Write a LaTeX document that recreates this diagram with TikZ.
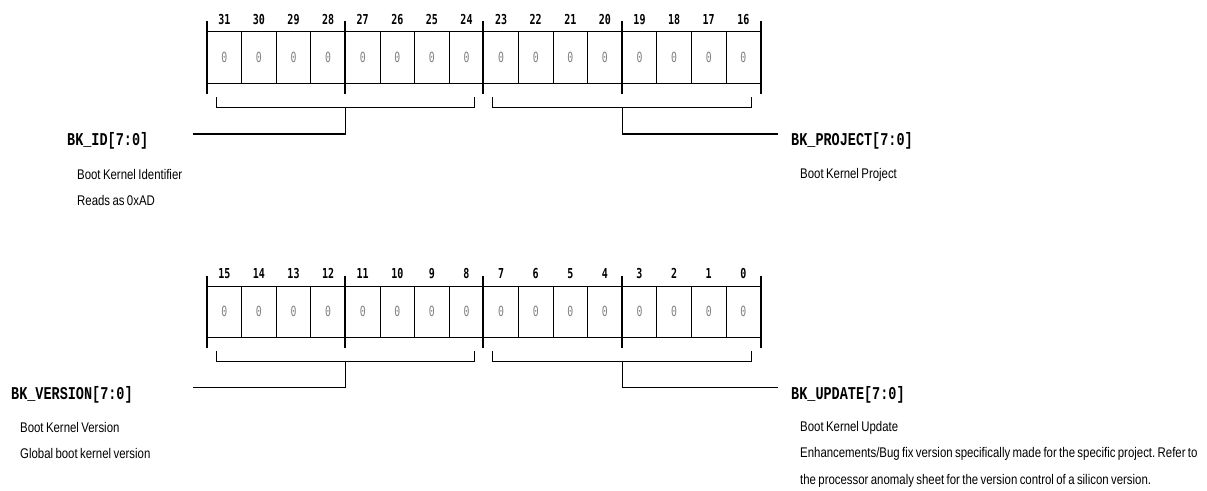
\documentclass[tikz,border=0pt]{standalone}
\usepackage{fontspec}
\usepackage{xcolor}
\usepackage{tikz}
\usetikzlibrary{positioning, calc}
\setmainfont{Liberation Sans}
\newfontfamily\regfont[FakeStretch=0.815, WordSpace=0.75]{Liberation Sans}
\newfontfamily\fieldfont[FakeStretch=0.75]{Liberation Mono}
\newfontfamily\bitfont[FakeStretch=0.73]{DejaVu Sans Mono}
\newfontfamily\resetfont[FakeStretch=0.7]{DejaVu Sans Mono}
\definecolor{ink}{HTML}{000000}
\definecolor{resetgray}{HTML}{808080}
\tikzset{
  cell/.style    = {draw=ink, line width=0.75pt, rectangle, minimum width=34.6bp, minimum height=51.6bp,
                    inner sep=0pt, text=resetgray, font=\resetfont\fontsize{14bp}{14bp}\selectfont},
  bitnum/.style  = {inner sep=0pt, text=ink, font=\bitfont\bfseries\fontsize{13.7bp}{14bp}\selectfont},
  nibble/.style  = {draw=ink, line width=2pt},
  brace/.style   = {draw=ink, line width=0.9pt},
  leader/.style  = {draw=ink, line width=1.2pt},
  field/.style   = {anchor=west, inner sep=0pt, text=ink, font=\fieldfont\bfseries\fontsize{18bp}{18bp}\selectfont},
  desc/.style    = {anchor=north west, align=left, inner sep=0pt, text=ink,
                    font=\regfont\fontsize{14bp}{26.5bp}\selectfont\frenchspacing},
}
\begin{document}
\begin{tikzpicture}[x=1bp, y=-1bp]
  \useasboundingbox (0,0) rectangle (1207,491);

  % register bits 31..16
  \foreach \i in {0,...,15} {
    \pgfmathtruncatemacro\bit{31-\i}
    \node[cell] (hi\i) at ({207+34.6*(\i+0.5)}, 57.5) {0};
    \node[bitnum, above=6.5bp of hi\i] (hinum\i) {\bit};
  }
  % register bits 15..0
  \foreach \i in {0,...,15} {
    \pgfmathtruncatemacro\bit{15-\i}
    \node[cell] (lo\i) at ({207+34.6*(\i+0.5)}, 311.7) {0};
    \node[bitnum, above=6.5bp of lo\i] (lonum\i) {\bit};
  }

  % nibble ticks
  \foreach \r in {hi, lo} {
    \foreach \k in {0, 4, 8, 12}
      \draw[nibble] ([yshift=10bp]\r\k.north west) -- ([yshift=-10.5bp]\r\k.south west);
    \draw[nibble] ([yshift=10bp]\r15.north east) -- ([yshift=-10.5bp]\r15.south east);
  }

  % byte brackets
  \foreach \r in {hi, lo} {
    \draw[brace] ([xshift=9.5bp, yshift=-13.4bp]\r0.south west) -- ++(0,-10.3bp)
                 -| ([xshift=-9.5bp, yshift=-13.4bp]\r7.south east);
    \draw[brace] ([xshift=9.5bp, yshift=-13.4bp]\r8.south west) -- ++(0,-10.3bp)
                 -| ([xshift=-9.5bp, yshift=-13.4bp]\r15.south east);
    \coordinate (\r lojoin) at ([yshift=-23.7bp]\r3.south east);
    \coordinate (\r rijoin) at ([yshift=-23.7bp]\r11.south east);
  }

  % leader line ends
  \coordinate (idend)  at (193, 134);
  \coordinate (prjend) at (778, 134);
  \coordinate (verend) at (193, 387.3);
  \coordinate (updend) at (778, 387.3);
  \draw[leader] (hilojoin) |- (idend);
  \draw[leader] (hirijoin) |- (prjend);
  \draw[leader] (lolojoin) |- (verend);
  \draw[leader] (lorijoin) |- (updend);

  % field names and descriptions
  \node[field] (idlab)  at (67, 141)  {BK\_ID[7:0]};
  \node[field] (prjlab) at (791, 141) {BK\_PROJECT[7:0]};
  \node[field] (verlab) at (11, 395)  {BK\_VERSION[7:0]};
  \node[field] (updlab) at (791, 395) {BK\_UPDATE[7:0]};

  \node[desc] (iddesc)  at (77, 169)  {Boot Kernel Identifier\\Reads as 0xAD};
  \node[desc] (prjdesc) at (800, 168) {Boot Kernel Project};
  \node[desc] (verdesc) at (20, 422)  {Boot Kernel Version\\Global boot kernel version};
  \node[desc] (upddesc) at (800, 421)
    {Boot Kernel Update\\Enhancements/Bug fix version specifically made for the specific project. Refer to\\
     the processor anomaly sheet for the version control of a silicon version.};
\end{tikzpicture}
\end{document}
